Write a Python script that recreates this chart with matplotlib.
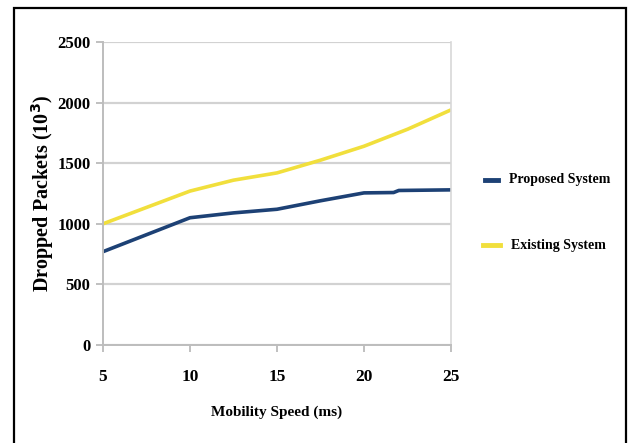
import matplotlib
matplotlib.use("Agg")
from matplotlib import pyplot as plt
from matplotlib.patches import Rectangle

# data
speed_proposed = [5, 10, 12.5, 15, 17.5, 20, 21.7, 22, 25]
dropped_proposed = [770, 1050, 1090, 1120, 1190, 1255, 1258, 1275, 1280]

speed_existing = [5, 10, 12.5, 15, 17.5, 20, 22.5, 25]
dropped_existing = [1000, 1270, 1360, 1420, 1525, 1640, 1780, 1940]

x_ticks = [5, 10, 15, 20, 25]
y_ticks = [0, 500, 1000, 1500, 2000, 2500]

blue = '#1d4175'
yellow = '#f1df3c'
grid_gray = '#d2d2d2'

plt.rcParams['font.family'] = ['Liberation Serif', 'DejaVu Serif']
plt.rcParams['font.weight'] = 'bold'

fig = plt.figure(figsize=(6.29, 4.43), dpi=100)
ax = fig.add_axes([103 / 629, 1 - 345 / 443, (451 - 103) / 629, (345 - 42) / 443])

ax.plot(speed_proposed, dropped_proposed, color=blue, lw=2.6, solid_capstyle='butt')
ax.plot(speed_existing, dropped_existing, color=yellow, lw=2.6, solid_capstyle='butt')

ax.set_xlim(5, 25)
ax.set_ylim(0, 2500)
ax.set_xticks(x_ticks)
ax.set_yticks(y_ticks)
ax.set_xticklabels([str(t) for t in x_ticks], fontsize=12.5, fontweight='bold')
ax.set_yticklabels([str(t) for t in y_ticks], fontsize=12, fontweight='bold')
ax.yaxis.grid(True, color=grid_gray, lw=1.6)
ax.set_axisbelow(True)
ax.tick_params(axis='both', colors='#b5b5b5', length=5, width=1.2, labelcolor='black')
ax.tick_params(axis='x', pad=12)
ax.tick_params(axis='y', pad=4)
for side in ['left', 'bottom']:
    ax.spines[side].set_color('#bdbdbd')
    ax.spines[side].set_linewidth(1.4)
ax.spines['top'].set_visible(False)
ax.spines['right'].set_color('#d8d8d8')
ax.spines['right'].set_linewidth(1.2)

ax.set_xlabel('Mobility Speed (ms)', fontsize=11, fontweight='bold', labelpad=15)
ax.set_ylabel('Dropped Packets (10$^{\\mathbf{3}}$)', fontsize=14.5, fontweight='bold', labelpad=1)

# legend drawn at the right like the original
fig.lines.append(plt.Line2D([485 / 629, 498 / 629], [1 - 180 / 443] * 2, color=blue, lw=3.5,
                            transform=fig.transFigure))
fig.text(509 / 629, 1 - 180 / 443, 'Proposed System', fontsize=10, fontweight='bold', va='center')
fig.lines.append(plt.Line2D([483 / 629, 500 / 629], [1 - 245 / 443] * 2, color=yellow, lw=3.5,
                            transform=fig.transFigure))
fig.text(511 / 629, 1 - 245 / 443, 'Existing System', fontsize=10, fontweight='bold', va='center')

# outer frame
fig.patches.append(Rectangle((14 / 629, -0.02), (626 - 14) / 629, 1.02 - 8 / 443,
                             transform=fig.transFigure, fill=False, edgecolor='black', lw=1.6))

fig.savefig('out.png', dpi=100)
